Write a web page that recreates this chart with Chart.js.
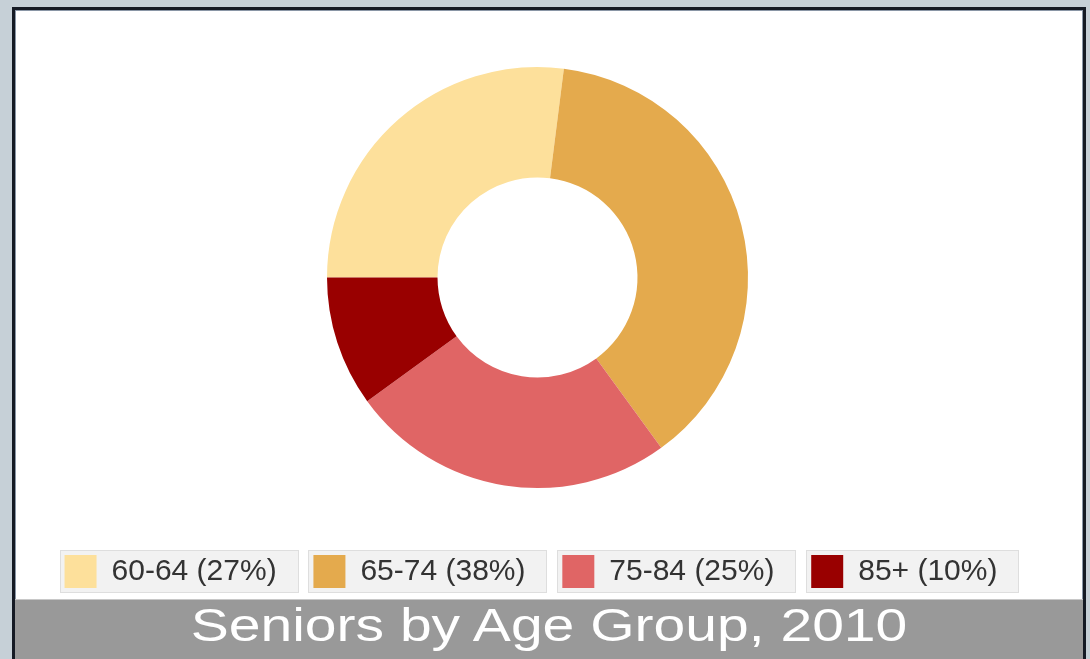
<!DOCTYPE html>
<html>
<head>
<meta charset="utf-8">
<script src="https://cdn.jsdelivr.net/npm/chart.js@4/dist/chart.umd.min.js"></script>
<style>
  html, body { margin: 0; padding: 0; width: 1090px; height: 659px; overflow: hidden; background: #c6d0d7; }
  #panel { position: absolute; left: 12px; top: 7px; width: 1068px; height: 700px; background: #ffffff;
           border-left: 3px solid #151a24; border-top: 3px solid #151a24; border-right: 3px solid #151a24;
           box-shadow: inset 1px 1px 0 #8a96a6, inset -1px 0 0 #8a96a6; }
  #chartBox { position: absolute; left: 0; top: 0; width: 1032px; height: 589px; }
  #titleBar { position: absolute; left: 0; top: 589px; width: 1068px; height: 70px; background: #999999;
              border-top: 1px solid #c8c8c8; box-sizing: border-box; text-align: center; }
  #titleBar span { display: inline-block; color: #ffffff; font-family: "Liberation Sans", Arial, sans-serif;
                   font-size: 46px; line-height: 50px; transform: scaleX(1.24); transform-origin: 50% 50%; white-space: nowrap; }
</style>
</head>
<body>
<div id="panel">
  <div id="chartBox"><canvas id="c" width="1032" height="589"></canvas></div>
  <div id="titleBar"><span>Seniors by Age Group, 2010</span></div>
</div>
<script>
const categories = ['60-64', '65-74', '75-84', '85+'];
const shares = [27, 38, 25, 10];
const sliceColors = ['#fde09b', '#e4aa4d', '#e06565', '#990000'];

const legendLabels = categories.map((c, i) => c + ' (' + shares[i] + '%)');

const legendBoxes = {
  id: 'legendBoxes',
  beforeDraw(chart) {
    const lg = chart.legend;
    if (!lg || !lg.legendHitBoxes) return;
    const ctx = chart.ctx;
    ctx.save();
    lg.legendHitBoxes.forEach(h => {
      const x = Math.round(h.left - 5) + 0.5;
      const y = Math.round(h.top - 5) + 0.5;
      const w = Math.round(h.width + 26);
      const hgt = Math.round(h.height + 9);
      ctx.fillStyle = '#f2f2f2';
      ctx.fillRect(x, y, w, hgt);
      ctx.strokeStyle = '#dedede';
      ctx.lineWidth = 1;
      ctx.strokeRect(x, y, w, hgt);
    });
    ctx.restore();
  }
};

new Chart(document.getElementById('c'), {
  type: 'doughnut',
  data: {
    labels: legendLabels,
    datasets: [{
      data: shares,
      backgroundColor: sliceColors,
      borderWidth: 0,
      hoverOffset: 0
    }]
  },
  options: {
    responsive: false,
    animation: false,
    rotation: -90,
    radius: 210.5,
    cutout: '47.5%',
    layout: { padding: { top: 26.8, bottom: 1, left: 0, right: 0 } },
    plugins: {
      tooltip: { enabled: false },
      title: { display: false },
      subtitle: {
        display: true,
        position: 'left',
        text: ' ',
        font: { size: 13, lineHeight: 1 },
        padding: 0
      },
      legend: {
        display: true,
        position: 'bottom',
        labels: {
          boxWidth: 32,
          boxHeight: 33,
          padding: 36.8,
          color: '#333333',
          font: { family: '"Liberation Sans", Arial, sans-serif', size: 30 }
        }
      }
    }
  },
  plugins: [legendBoxes]
});
</script>
</body>
</html>
